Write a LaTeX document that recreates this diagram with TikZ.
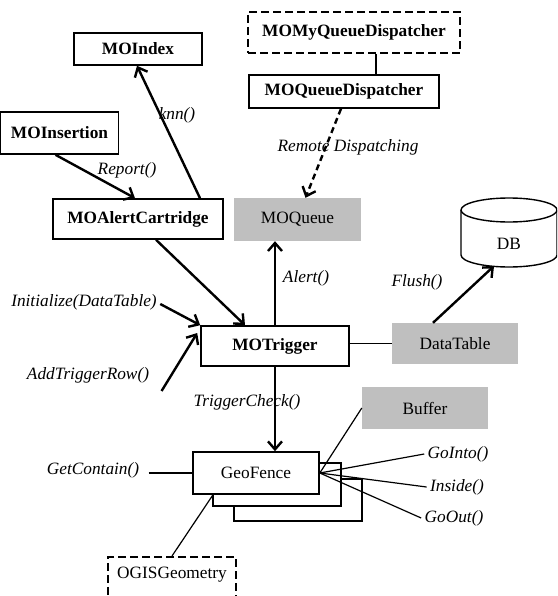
\documentclass[tikz,border=0pt]{standalone}
\usepackage{fontspec}
\setmainfont{Liberation Serif}
\usetikzlibrary{arrows.meta}

\begin{document}
\begin{tikzpicture}[x=1pt,y=-1pt,
    every node/.style={font=\fontsize{17.3}{20}\selectfont},
    box/.style={draw, line width=1.6pt, inner sep=0pt, font=\fontsize{17.3}{20}\selectfont\bfseries},
    dbox/.style={box, line width=1.8pt, dash pattern=on 8pt off 4pt},
    gbox/.style={fill=black!25, inner sep=0pt},
    wbox/.style={draw, line width=1.6pt, fill=white, inner sep=0pt},
    lbl/.style={font=\fontsize{17.3}{20}\selectfont\itshape},
    arr/.style={line width=2.4pt, -{Straight Barb[length=8pt,width=14pt,line width=2.4pt]}},
    link/.style={line width=1.2pt}]
    \useasboundingbox (0,0) rectangle (557,596);
    \clip (0,0) rectangle (557,596);
    % boxes
    \node[box, minimum width=128, minimum height=32] (index) at (138,49) {MOIndex};
    \node[dbox, minimum width=212, minimum height=41] (mydisp) at (354,32.5) {MOMyQueueDispatcher};
    \node[box, minimum width=190, minimum height=33] (qdisp) at (344,91.5) {MOQueueDispatcher};
    \node[box, minimum width=118, minimum height=42] (ins) at (59.5,133) {MOInsertion};
    \node[box, minimum width=170, minimum height=40] (cart) at (138,219) {MOAlertCartridge};
    \node[gbox, minimum width=127, minimum height=43] (queue) at (297.5,219.5) {MOQueue};
    \node[box, minimum width=148, minimum height=40] (trig) at (275,346) {MOTrigger};
    \node[gbox, minimum width=126, minimum height=41] (dtab) at (455,343.5) {DataTable};
    \node[gbox, minimum width=126, minimum height=42] (buf) at (425,408) {Buffer};
    \draw[wbox] (234,479) rectangle (362,521);
    \draw[wbox] (213,463) rectangle (341,506);
    \node[wbox, minimum width=126, minimum height=42] (geo) at (256,473) {GeoFence};
    \node[dbox, font=\fontsize{17.3}{20}\selectfont, anchor=north, minimum width=128,
        text height=12pt, text depth=30pt, inner ysep=10pt] (ogis) at (172,556) {OGISGeometry};
    % database
    \draw[line width=1.4pt] (509,210) ellipse [x radius=48pt, y radius=12pt];
    \draw[line width=1.4pt] (461,210) -- (461,255) arc[start angle=180, end angle=360, x radius=48pt, y radius=12pt] -- (557,210);
    \node (db) at (509,244) {DB};
    \coordinate (dbbot) at (494,266);
    % labels
    \node[lbl] (remote) at (348,147) {Remote Dispatching};
    \node[lbl] (report) at (127,170) {Report()};
    \node[lbl] (knn) at (177,115) {knn()};
    \node[lbl] (init) at (84,302) {Initialize(DataTable)};
    \node[lbl] (addrow) at (88,375) {AddTriggerRow()};
    \node[lbl] (alertl) at (306,278) {Alert()};
    \node[lbl] (flush) at (417,282) {Flush()};
    \node[lbl] (check) at (247,402) {TriggerCheck()};
    \node[lbl] (getc) at (93,470) {GetContain()};
    \node[lbl] (gointo) at (458,454) {GoInto()};
    \node[lbl] (inside) at (457,487) {Inside()};
    \node[lbl] (goout) at (454,518) {GoOut()};
    % connectors
    \draw[arr] ([xshift=-4]ins.south) -- ([xshift=-3]cart.north);
    \draw[arr] ([xshift=62]cart.north) -- ([xshift=-1]index.south);
    \draw[link] ([xshift=22]mydisp.south) -- ([xshift=32]qdisp.north);
    \draw[arr, dash pattern=on 6pt off 4pt] ([xshift=-3]qdisp.south) -- ([xshift=8]queue.north);
    \draw[arr] ([xshift=18]cart.south) -- ([xshift=-30]trig.north);
    \draw[arr] ([yshift=-2]init.east) -- (trig.north west);
    \draw[arr] ([shift={(9,16)}]addrow.east) -- ([shift={(-3,-13)}]trig.west);
    \draw[arr] (trig.north) -- (trig.north |- queue.south);
    \draw[arr] (trig.south) -- (trig.south |- geo.north);
    \draw[link] (dtab.west -| trig.east) -- (dtab.west);
    \draw[arr] ([xshift=-22]dtab.north) -- (dbbot);
    \draw[link] (geo.east) -- (buf.west);
    \draw[link] (geo.east) -- (gointo.west);
    \draw[link] (geo.east) -- (inside.west);
    \draw[link] (geo.east) -- (goout.west);
    \draw[link] ([xshift=6]getc.east |- geo.west) -- (geo.west);
    \draw[link] (ogis.north) -- ([xshift=-43]geo.south);
\end{tikzpicture}
\end{document}
